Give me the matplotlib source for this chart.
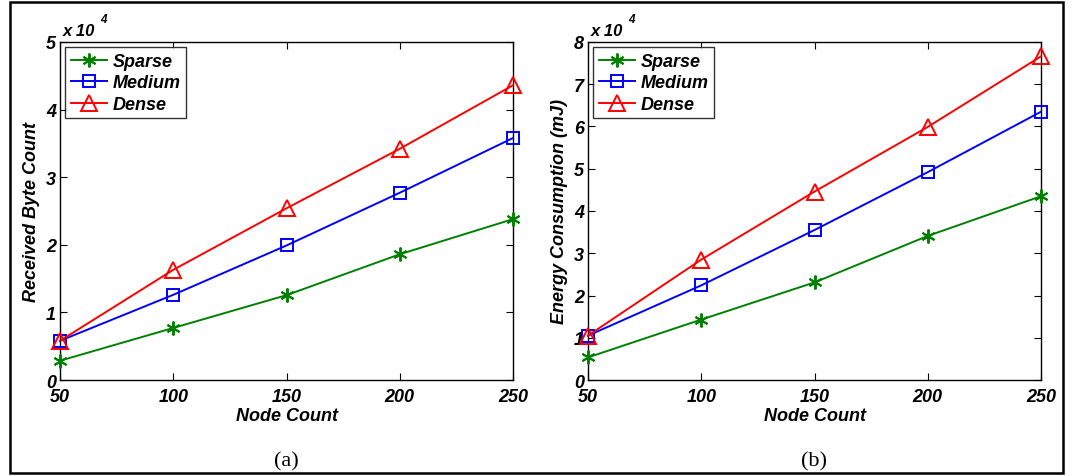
import numpy as np
import matplotlib
matplotlib.use('Agg')
import matplotlib.pyplot as plt
from matplotlib.patches import Rectangle

# ---------------------------------------------------------------------------
node_counts = [50, 100, 150, 200, 250]
series_names = ['Sparse', 'Medium', 'Dense']

# (a) received byte count
bytes_sparse = [2850, 7700, 12550, 18600, 23800]
bytes_medium = [5800, 12600, 19900, 27700, 35800]
bytes_dense = [5800, 16300, 25400, 34200, 43600]

# (b) energy consumption (mJ)
energy_sparse = [5350, 14300, 23100, 34100, 43500]
energy_medium = [10500, 22400, 35500, 49200, 63500]
energy_dense = [10500, 28500, 44600, 59900, 76600]

colors = [(0, 0.5, 0), '#0000ff', '#ff0000']
markers = [(6, 2, 0), 's', '^']
marker_sizes = [10, 9, 12]

plt.rcParams['font.family'] = ['Liberation Sans', 'DejaVu Sans']
fnt = dict(fontsize=13, fontweight='bold', fontstyle='italic')


def draw_panel(ax, data, ymax, ylabel, caption):
    for vals, name, c, m, ms in zip(data, series_names, colors, markers, marker_sizes):
        ax.plot(node_counts, vals, color=c, marker=m, markersize=ms, lw=1.4,
                markerfacecolor='none', markeredgecolor=c, markeredgewidth=1.4,
                label=name, clip_on=False, zorder=3)
    ax.set_xlim(50, 250)
    ax.set_ylim(0, ymax * 1e4)
    ax.set_xticks(node_counts)
    yt = np.arange(0, ymax + 1)
    ax.set_yticks(yt * 1e4)
    ax.set_xticklabels([str(v) for v in node_counts], **fnt)
    ax.set_yticklabels([str(int(v)) for v in yt], **fnt)
    ax.tick_params(direction='in', top=True, right=True, length=5, width=0.8)
    ax.tick_params(axis='x', pad=6)
    ax.tick_params(axis='y', pad=3)
    for s in ax.spines.values():
        s.set_linewidth(1.0)
    ax.set_xlabel('Node Count', labelpad=1, **fnt)
    ax.set_ylabel(ylabel, labelpad=4, **fnt)
    ax.text(0.005, 1.012, 'x 10', transform=ax.transAxes, ha='left', va='bottom',
            fontsize=12, fontweight='bold', fontstyle='italic')
    ax.text(0.088, 1.05, '4', transform=ax.transAxes, ha='left', va='bottom',
            fontsize=8.5, fontweight='bold', fontstyle='italic')
    leg = ax.legend(loc='upper left', borderaxespad=0.3, handlelength=2.0,
                    handletextpad=0.3, labelspacing=0.25, borderpad=0.3,
                    fancybox=False, edgecolor='black',
                    prop=dict(family='Liberation Sans', size=13, weight='bold', style='italic'))
    leg.get_frame().set_linewidth(1.0)
    leg.set_zorder(5)
    ax.text(0.5, -0.24, caption, transform=ax.transAxes, ha='center', va='center',
            fontsize=16, family='Liberation Serif')


fig = plt.figure(figsize=(10.75, 4.77), dpi=100)
ax1 = fig.add_axes([60 / 1075, 1 - 381 / 477, 453 / 1075, 338 / 477])
ax2 = fig.add_axes([588 / 1075, 1 - 381 / 477, 453 / 1075, 338 / 477])

draw_panel(ax1, [bytes_sparse, bytes_medium, bytes_dense], 5, 'Received Byte Count', '(a)')
draw_panel(ax2, [energy_sparse, energy_medium, energy_dense], 8, 'Energy Consumption (mJ)', '(b)')

# outer frame
fig.patches.append(Rectangle((10 / 1075, 3 / 477), 1053 / 1075, 471 / 477,
                             transform=fig.transFigure, fill=False,
                             edgecolor='black', lw=1.8))

plt.savefig('out.png', dpi=100)
plt.close()
